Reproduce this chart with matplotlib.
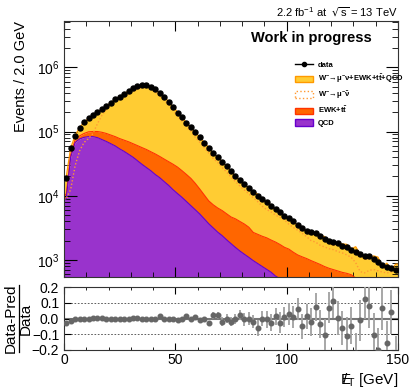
import numpy as np
import matplotlib
matplotlib.use('Agg')
import matplotlib.pyplot as plt
from matplotlib.lines import Line2D
from matplotlib.patches import Patch
from matplotlib.ticker import MultipleLocator, FuncFormatter, LogLocator

plt.rcParams['font.family'] = ['Liberation Sans', 'DejaVu Sans']
plt.rcParams['mathtext.default'] = 'regular'

# 2 GeV bins from 0 to 150
edges = np.arange(0, 152, 2)
centers = edges[:-1] + 1

data = np.array([
    1.9e4, 5.5e4, 8.6e4, 1.15e5, 1.4e5, 1.6e5, 1.8e5, 2.0e5, 2.25e5, 2.5e5,
    2.8e5, 3.2e5, 3.5e5, 3.9e5, 4.3e5, 4.7e5, 5.1e5, 5.3e5, 5.3e5, 5.0e5,
    4.55e5, 4.0e5, 3.5e5, 2.9e5, 2.45e5, 1.97e5, 1.67e5, 1.38e5, 1.17e5, 9.7e4,
    8.1e4, 6.7e4, 5.5e4, 4.7e4, 4.0e4, 3.4e4, 2.86e4, 2.4e4, 2.05e4, 1.78e4,
    1.52e4, 1.32e4, 1.15e4, 1.0e4, 8.9e3, 8.0e3, 7.0e3, 6.2e3, 5.5e3, 4.9e3,
    4.5e3, 4.0e3, 3.56e3, 3.16e3, 2.8e3, 2.7e3, 2.63e3, 2.34e3, 2.1e3, 2.0e3,
    1.9e3, 1.85e3, 1.68e3, 1.58e3, 1.42e3, 1.32e3, 1.22e3, 1.17e3, 1.15e3, 1.05e3,
    925, 850, 773, 755, 690])

ratio = np.array([
    -0.03, -0.015, -0.005, -0.005, 0.0, 0.0, 0.005, 0.005, 0.005, -0.005,
    -0.005, 0.0, 0.0, 0.0, 0.0, 0.005, 0.005, 0.0, -0.005, -0.005,
    -0.005, 0.015, -0.005, 0.0, 0.0, -0.01, 0.0, 0.015, -0.005, 0.01,
    -0.01, -0.005, -0.03, 0.02, 0.02, -0.02, 0.0, -0.02, 0.0, 0.025,
    -0.005, 0.0, -0.02, -0.06, 0.0, -0.005, -0.025, 0.015, -0.025, 0.01,
    0.03, 0.01, 0.06, -0.05, 0.015, -0.02, 0.075, -0.035, -0.105, 0.07,
    0.115, 0.005, -0.06, -0.11, -0.045, -0.22, -0.01, 0.125, 0.08, -0.105,
    -0.2, 0.07, -0.155, 0.045, -0.25])

ratio_err = np.array([
    0.003, 0.003, 0.003, 0.003, 0.003, 0.003, 0.003, 0.003, 0.003, 0.003,
    0.003, 0.003, 0.003, 0.003, 0.003, 0.003, 0.003, 0.003, 0.003, 0.003,
    0.006, 0.006, 0.006, 0.006, 0.006, 0.01, 0.01, 0.01, 0.01, 0.01,
    0.015, 0.015, 0.015, 0.02, 0.02, 0.028, 0.028, 0.028, 0.032, 0.032,
    0.04, 0.04, 0.04, 0.05, 0.05, 0.055, 0.055, 0.055, 0.065, 0.065,
    0.07, 0.07, 0.07, 0.08, 0.08, 0.09, 0.09, 0.09, 0.1, 0.1,
    0.11, 0.11, 0.11, 0.12, 0.12, 0.13, 0.13, 0.13, 0.14, 0.14,
    0.14, 0.14, 0.14, 0.14, 0.14])

qcd = np.array([
    8900, 4.0e4, 6.76e4, 7.67e4, 8.13e4, 8.32e4, 8.32e4, 8.04e4, 7.5e4, 7.0e4,
    6.46e4, 5.96e4, 5.37e4, 4.9e4, 4.42e4, 3.98e4, 3.51e4, 3.09e4, 2.75e4, 2.45e4,
    2.14e4, 1.91e4, 1.66e4, 1.45e4, 1.24e4, 1.08e4, 9440, 8130, 7000, 6030,
    5190, 4370, 3670, 3160, 2720, 2400, 2070, 1800, 1570, 1380,
    1230, 1100, 977, 881, 794, 716, 646, 562, 513, 457,
    417, 380, 347, 309, 282, 257, 234, 214, 191, 174,
    158, 145, 132, 120, 110, 100, 91, 83, 76, 69,
    63, 58, 52, 48, 44])

ewk = np.array([
    1600, 3500, 7000, 8800, 12000, 15700, 16800, 19600, 22300, 23300,
    23500, 23600, 23900, 24300, 25000, 24800, 25200, 25300, 25000, 23900,
    23300, 21800, 20600, 19400, 18500, 17100, 15100, 13300, 11600, 9500,
    7500, 5900, 4650, 4080, 3740, 3490, 3180, 2880, 2800, 2600,
    2400, 2140, 1710, 1630, 1550, 1500, 1400, 1340, 1230, 1120,
    1060, 940, 850, 810, 770, 720, 680, 640, 600, 570,
    550, 530, 510, 500, 480, 425, 410, 400, 380, 370,
    350, 340, 330, 320, 310])

wmunu = np.array([
    8900, 12600, 29500, 50100, 67600, 77600, 93300, 1.32e5, 1.78e5, 2.19e5,
    2.57e5, 2.88e5, 3.16e5, 3.51e5, 3.85e5, 4.17e5, 4.52e5, 4.9e5, 5.0e5, 4.6e5,
    4.1e5, 3.55e5, 3.09e5, 2.57e5, 2.14e5, 1.72e5, 1.45e5, 1.19e5, 1.0e5, 8.1e4,
    6.8e4, 5.6e4, 4.6e4, 3.8e4, 3.3e4, 2.75e4, 2.34e4, 1.95e4, 1.66e4, 1.41e4,
    1.23e4, 1.07e4, 9300, 8100, 6900, 6100, 5600, 5000, 4600, 4200,
    3600, 3200, 2900, 2600, 2300, 2000, 1900, 1700, 1600, 1500,
    1450, 1350, 1290, 1200, 1100, 910, 660, 630, 690, 710,
    680, 650, 630, 650, 680])

c_yel, c_yel_e = '#FFCC33', '#FF9900'
c_ewk, c_ewk_e = '#FF6600', '#FF3300'
c_qcd, c_qcd_e = '#9933CC', '#6600CC'

pred = data * (1 - ratio)
qcd_ewk = qcd + ewk

# curves run through the bin centres and are held flat out to the axis edges
xs = np.concatenate([[edges[0]], centers, [edges[-1]]])
def ext(v):
    return np.concatenate([[v[0]], v, [v[-1]]])

fig = plt.figure(figsize=(4.09, 3.89), dpi=100)
ax = fig.add_axes([0.1565, 0.2871, 0.8166, 0.6596])
ax2 = fig.add_axes([0.1565, 0.1003, 0.8166, 0.1612])

ax.fill_between(xs, ext(qcd_ewk), ext(pred), color=c_yel, lw=0)
ax.plot(xs, ext(pred), color=c_yel_e, lw=0.9)
ax.fill_between(xs, ext(qcd), ext(qcd_ewk), color=c_ewk, lw=0)
ax.plot(xs, ext(qcd_ewk), color=c_ewk_e, lw=0.8)
ax.fill_between(xs, 1, ext(qcd), color=c_qcd, lw=0)
ax.plot(xs, ext(qcd), color=c_qcd_e, lw=0.8)
ax.plot(xs, ext(wmunu), color='#FF9933', lw=1.0, ls=(0, (1, 1.5)))
ax.plot(centers, data, 'o', color='k', ms=3.6, zorder=5)

ax.set_yscale('log')
ax.set_xlim(0, 150)
ax.set_ylim(538, 5.3e6)
ax.set_ylabel('Events / 2.0 GeV', fontsize=10.5, loc='top')
ax.yaxis.set_label_coords(-0.108, 1.0)
ax.xaxis.set_major_locator(MultipleLocator(50))
ax.xaxis.set_minor_locator(MultipleLocator(10))
ax.yaxis.set_minor_locator(LogLocator(subs=np.arange(2, 10)))
ax.tick_params(which='both', direction='in', top=True, right=True, labelbottom=False)
ax.tick_params(axis='y', which='major', length=9, labelsize=10, pad=3)
ax.tick_params(axis='y', which='minor', length=4.5)
ax.tick_params(axis='x', which='major', length=7)
ax.tick_params(axis='x', which='minor', length=3.5)

ax.text(0.922, 0.933, 'Work in progress', transform=ax.transAxes, ha='right',
        va='center', fontsize=10.5, fontweight='bold')
fig.text(0.973, 0.969, r'2.2 fb$^{-1}$ at  $\sqrt{s}$ = 13 TeV', ha='right',
         va='center', fontsize=8)

handles = [
    Line2D([], [], color='k', marker='o', ms=3, lw=1),
    Patch(facecolor=c_yel, edgecolor=c_yel_e),
    Patch(facecolor='white', edgecolor='#FF9933', ls=':'),
    Patch(facecolor=c_ewk, edgecolor=c_ewk_e),
    Patch(facecolor=c_qcd, edgecolor=c_qcd_e),
]
labels = [
    'data',
    r'W$^{-}\!\rightarrow\!\mu^{-}\nu$+EWK+t$\bar{t}$+QCD',
    r'W$^{-}\!\rightarrow\!\mu^{-}\bar{\nu}$',
    r'EWK+t$\bar{t}$',
    'QCD',
]
ax.legend(handles, labels, loc='upper left', bbox_to_anchor=(0.692, 0.843),
          frameon=False, prop={'weight': 'bold', 'size': 5.5}, handlelength=2.35,
          handleheight=0.92, labelspacing=0.5, borderpad=0, borderaxespad=0,
          handletextpad=0.65)

# ratio panel
ax2.axhline(0, color='#777777', lw=1.5, zorder=1)
for yl in (0.1, -0.1):
    ax2.axhline(yl, color='#444444', lw=0.6, ls=(0, (2, 2)), zorder=1)
ax2.errorbar(centers, ratio, yerr=ratio_err, fmt='o', color='#666666',
             ecolor='#a0a0a0', ms=3.3, elinewidth=1.3, capsize=0, zorder=3)
ax2.set_xlim(0, 150)
ax2.set_ylim(-0.2, 0.2)
ax2.xaxis.set_major_locator(MultipleLocator(50))
ax2.xaxis.set_minor_locator(MultipleLocator(10))
ax2.yaxis.set_major_locator(MultipleLocator(0.1))
ax2.yaxis.set_major_formatter(FuncFormatter(
    lambda v, p: ('%.1f' % (0.0 if abs(v) < 1e-9 else v)).replace('-', '\u2212')))
ax2.tick_params(which='both', direction='in', top=True, right=True)
ax2.tick_params(axis='both', which='major', labelsize=10, length=5)
ax2.tick_params(axis='x', which='minor', length=2.5)
ax2.tick_params(axis='x', which='major', pad=2)
ax2.set_xlabel(r'$E\!\!\!/_{T}$ [GeV]', fontsize=11, loc='right')
ax2.xaxis.set_label_coords(1.0, -0.33)

# ratio y title as a stacked fraction, drawn by hand
yc = 1 - 318.5 / 389
fig.text(11 / 409, yc, 'Data-Pred', rotation=90, ha='center', va='center', fontsize=11)
fig.text(26 / 409, yc, 'Data', rotation=90, ha='center', va='center', fontsize=11)
fig.add_artist(Line2D([18.5 / 409, 18.5 / 409], [1 - 285 / 389, 1 - 352 / 389],
                      color='k', lw=0.9))

for a in (ax, ax2):
    for s in a.spines.values():
        s.set_linewidth(0.8)
        s.set_color('#333333')

fig.savefig('out.png', dpi=100)
plt.close(fig)
